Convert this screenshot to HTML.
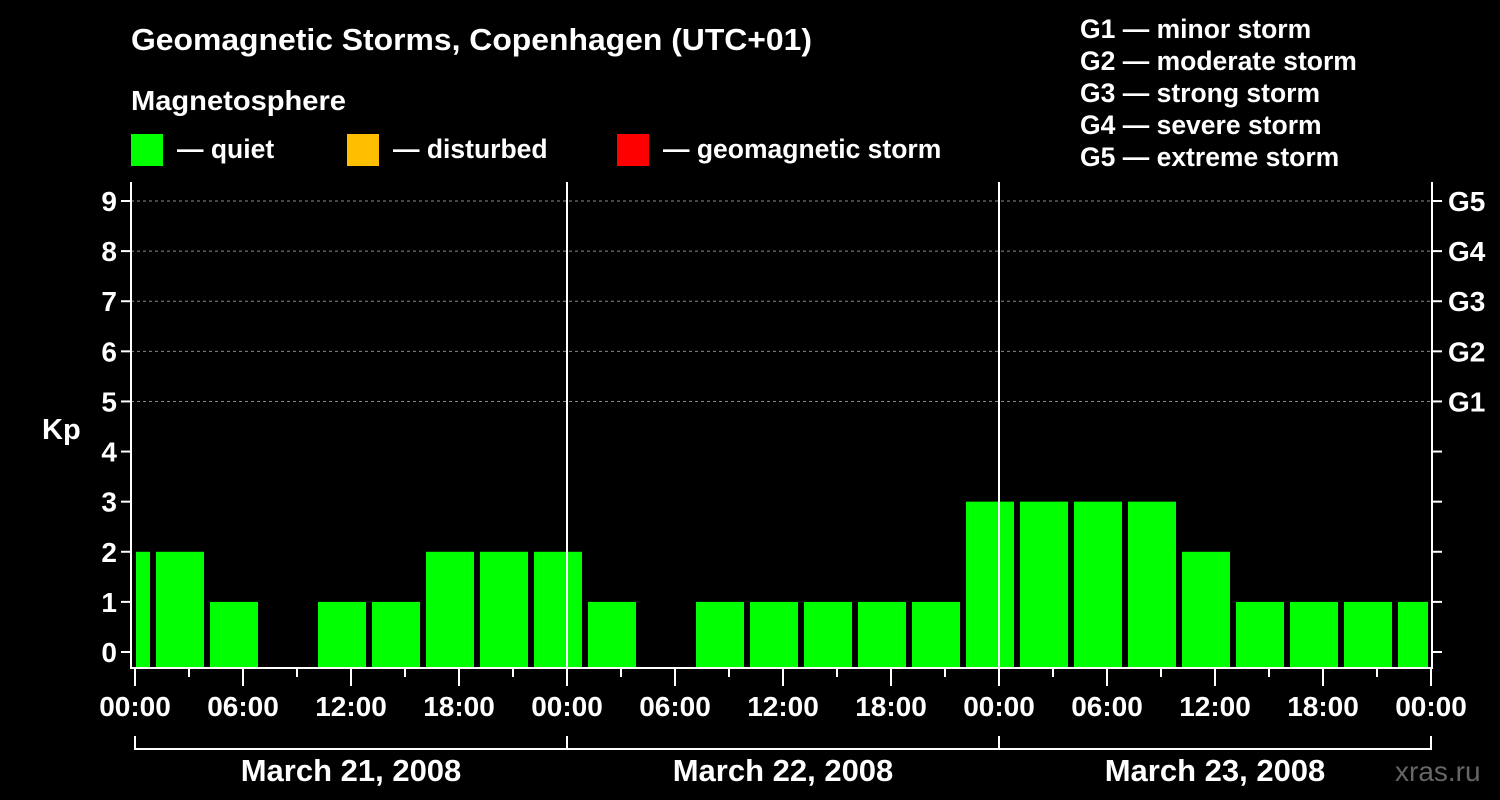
<!DOCTYPE html>
<html><head><meta charset="utf-8"><style>
html,body{margin:0;padding:0;background:#000;}
svg{display:block;font-family:"Liberation Sans",Arial,sans-serif;font-weight:bold;}
</style></head><body>
<svg id="chart" width="1500" height="800" viewBox="0 0 1500 800">
<rect width="1500" height="800" fill="#000"/>
<text x="131" y="50" fill="#fff" font-size="31" textLength="681" lengthAdjust="spacingAndGlyphs">Geomagnetic Storms, Copenhagen (UTC+01)</text>
<text x="131" y="110" fill="#fff" font-size="28" textLength="215" lengthAdjust="spacingAndGlyphs">Magnetosphere</text>
<g><rect x="131" y="134" width="32" height="32" fill="#00ff00"/><text x="177" y="158" fill="#fff" font-size="26.5">— quiet</text></g>
<g><rect x="347" y="134" width="32" height="32" fill="#ffbf00"/><text x="393" y="158" fill="#fff" font-size="26.5">— disturbed</text></g>
<g><rect x="617" y="134" width="32" height="32" fill="#ff0000"/><text x="663" y="158" fill="#fff" font-size="26.5">— geomagnetic storm</text></g>
<g fill="#fff" font-size="26.5">
<text x="1080" y="38">G1 — minor storm</text>
<text x="1080" y="70">G2 — moderate storm</text>
<text x="1080" y="102">G3 — strong storm</text>
<text x="1080" y="134">G4 — severe storm</text>
<text x="1080" y="166">G5 — extreme storm</text>
</g>
<text x="42" y="439" fill="#fff" font-size="29">Kp</text>
<text x="1395" y="781" fill="#666" font-size="28" font-weight="normal">xras.ru</text>
<g id="plot"></g>
</svg>
<script>
const kpValues=[2,2,1,0,1,1,2,2,2,1,0,1,1,1,1,1,3,3,3,3,2,1,1,1,1];
const yTicks=[0,1,2,3,4,5,6,7,8,9];
const gLabels=["G1","G2","G3","G4","G5"];
const gLevels=[5,6,7,8,9];
const xTickLabels=["00:00","06:00","12:00","18:00","00:00","06:00","12:00","18:00","00:00","06:00","12:00","18:00","00:00"];
const dayLabels=["March 21, 2008","March 22, 2008","March 23, 2008"];
const firstSlotHour=-2, slotHours=3, totalHours=72;

const NS="http://www.w3.org/2000/svg";
const L=131,R=1432,T=182,B=668,X0=135,X1=1431;
const xs=h=>X0+(X1-X0)*h/totalHours;
const ys=v=>652-v*(652-201)/9;
const g=document.getElementById('plot');
function mk(t,a,p){const e=document.createElementNS(NS,t);for(const k in a)e.setAttribute(k,a[k]);(p||g).appendChild(e);return e;}

gLevels.forEach(v=>{const e=mk('line',{x1:L,x2:R,y1:ys(v),y2:ys(v),stroke:'#888','stroke-dasharray':'3,3','stroke-width':1});

});
kpValues.forEach((v,i)=>{
 if(v<=0)return;
 let h0=firstSlotHour+i*slotHours,h1=h0+slotHours;
 let x0=xs(h0)+3,x1=xs(h1)-3;
 x0=Math.max(x0,X0+1);x1=Math.min(x1,X1-3);
 const c=v>=5?'#ff0000':(v>=4?'#ffbf00':'#00ff00');
 const e=mk('rect',{x:x0,y:ys(v),width:x1-x0,height:B-1-ys(v),fill:c});
 
 
});
[24,48].forEach(h=>{const e=mk('line',{x1:xs(h),x2:xs(h),y1:T,y2:B,stroke:'#fff','stroke-width':2});

});
const fr=mk('path',{d:`M${L} ${T}V${B}H${R}V${T}`,stroke:'#fff','stroke-width':2,fill:'none'});


yTicks.forEach(v=>{
 mk('line',{x1:L-10,x2:L,y1:ys(v),y2:ys(v),stroke:'#fff','stroke-width':2});
 mk('line',{x1:R,x2:R+10,y1:ys(v),y2:ys(v),stroke:'#fff','stroke-width':2});
 const t=mk('text',{x:L-14,y:ys(v)+10,fill:'#fff','font-size':28,'text-anchor':'end'});t.textContent=v;
 
 
});
gLevels.forEach((v,i)=>{const t=mk('text',{x:R+16,y:ys(v)+10,fill:'#fff','font-size':28});t.textContent=gLabels[i];
 
 });
for(let h=0;h<=totalHours;h+=3){const major=h%6===0;
 mk('line',{x1:xs(h),x2:xs(h),y1:B,y2:B+(major?18:9),stroke:'#fff','stroke-width':2});}
xTickLabels.forEach((s,i)=>{const t=mk('text',{x:xs(i*6),y:716,fill:'#fff','font-size':28,'text-anchor':'middle'});t.textContent=s;
 
 });
mk('path',{d:`M${X0} 736V749H${X1}V736`,stroke:'#fff','stroke-width':2,fill:'none'});
[24,48].forEach(h=>mk('line',{x1:xs(h),x2:xs(h),y1:736,y2:749,stroke:'#fff','stroke-width':2}));
dayLabels.forEach((s,i)=>{const t=mk('text',{x:xs(i*24+12),y:781,fill:'#fff','font-size':31,'text-anchor':'middle'});t.textContent=s;
 
 });
</script>
</body></html>
